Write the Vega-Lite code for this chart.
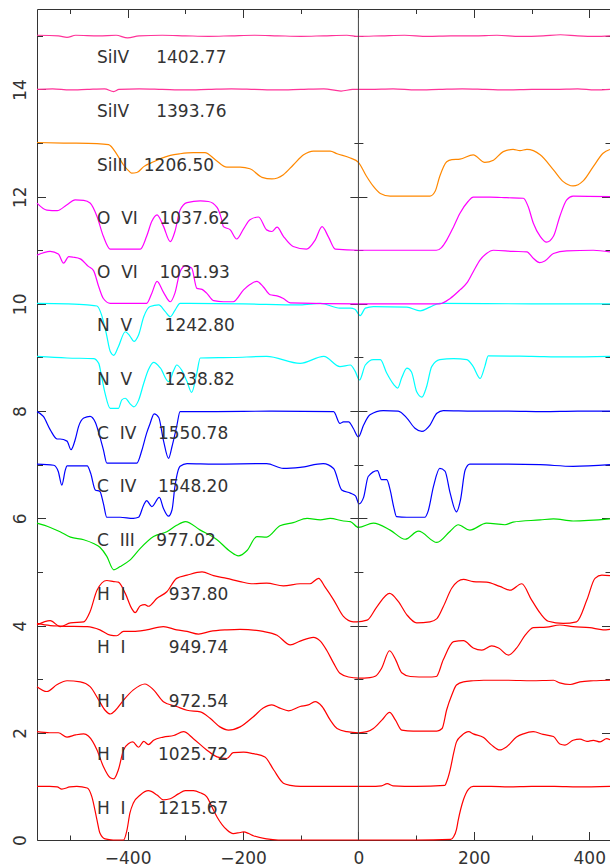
{
"$schema": "https://vega.github.io/schema/vega-lite/v6.json",
"width": 573, "height": 831,
"autosize": "none",
"padding": {"left": 37, "top": 9, "right": 0, "bottom": 27},
"background": "white",
"config": {"view": {"stroke": null}, "axis": {"grid": false, "domainColor": "#333", "tickColor": "#333", "labelColor": "#333", "labelFont": "DejaVu Sans", "labelFontSize": 17, "domainWidth": 1, "tickWidth": 1, "title": null}},
"resolve": {"axis": {"x": "independent", "y": "independent"}},
"datasets": {
"labels": [
{"offset":14,"label":"SiIV\u00a0\u00a0\u00a0\u00a0\u00a01402.77"},
{"offset":13,"label":"SiIV\u00a0\u00a0\u00a0\u00a0\u00a01393.76"},
{"offset":12,"label":"SiIII\u00a0\u00a0\u00a01206.50"},
{"offset":11,"label":"O\u00a0\u00a0VI\u00a0\u00a0\u00a0\u00a01037.62"},
{"offset":10,"label":"O\u00a0\u00a0VI\u00a0\u00a0\u00a0\u00a01031.93"},
{"offset":9,"label":"N\u00a0\u00a0V\u00a0\u00a0\u00a0\u00a0\u00a0\u00a01242.80"},
{"offset":8,"label":"N\u00a0\u00a0V\u00a0\u00a0\u00a0\u00a0\u00a0\u00a01238.82"},
{"offset":7,"label":"C\u00a0\u00a0IV\u00a0\u00a0\u00a0\u00a01550.78"},
{"offset":6,"label":"C\u00a0\u00a0IV\u00a0\u00a0\u00a0\u00a01548.20"},
{"offset":5,"label":"C\u00a0\u00a0III\u00a0\u00a0\u00a0\u00a0977.02"},
{"offset":4,"label":"H\u00a0\u00a0I\u00a0\u00a0\u00a0\u00a0\u00a0\u00a0\u00a0\u00a0937.80"},
{"offset":3,"label":"H\u00a0\u00a0I\u00a0\u00a0\u00a0\u00a0\u00a0\u00a0\u00a0\u00a0949.74"},
{"offset":2,"label":"H\u00a0\u00a0I\u00a0\u00a0\u00a0\u00a0\u00a0\u00a0\u00a0\u00a0972.54"},
{"offset":1,"label":"H\u00a0\u00a0I\u00a0\u00a0\u00a0\u00a0\u00a0\u00a01025.72"},
{"offset":0,"label":"H\u00a0\u00a0I\u00a0\u00a0\u00a0\u00a0\u00a0\u00a01215.67"}
],
"spec": [
{"s":"H1216","x":-557,"y":1.0},{"s":"H1216","x":-535,"y":1.0},{"s":"H1216","x":-522,"y":0.99},{"s":"H1216","x":-514,"y":0.95},{"s":"H1216","x":-500,"y":0.99},{"s":"H1216","x":-488,"y":1.0},{"s":"H1216","x":-470,"y":0.97},{"s":"H1216","x":-462,"y":0.81},{"s":"H1216","x":-453,"y":0.37},{"s":"H1216","x":-448,"y":0.13},{"s":"H1216","x":-439,"y":0.02},{"s":"H1216","x":-425,"y":0.0},{"s":"H1216","x":-407,"y":0.0},{"s":"H1216","x":-401,"y":0.19},{"s":"H1216","x":-396,"y":0.5},{"s":"H1216","x":-390,"y":0.69},{"s":"H1216","x":-378,"y":0.84},{"s":"H1216","x":-364,"y":0.92},{"s":"H1216","x":-349,"y":0.84},{"s":"H1216","x":-338,"y":0.75},{"s":"H1216","x":-326,"y":0.77},{"s":"H1216","x":-312,"y":0.86},{"s":"H1216","x":-300,"y":0.92},{"s":"H1216","x":-286,"y":0.92},{"s":"H1216","x":-274,"y":0.88},{"s":"H1216","x":-263,"y":0.81},{"s":"H1216","x":-254,"y":0.62},{"s":"H1216","x":-245,"y":0.43},{"s":"H1216","x":-228,"y":0.19},{"s":"H1216","x":-217,"y":0.12},{"s":"H1216","x":-205,"y":0.14},{"s":"H1216","x":-199,"y":0.15},{"s":"H1216","x":-190,"y":0.12},{"s":"H1216","x":-182,"y":0.08},{"s":"H1216","x":-159,"y":0.02},{"s":"H1216","x":-139,"y":0.0},{"s":"H1216","x":0,"y":0.0},{"s":"H1216","x":100,"y":0.0},{"s":"H1216","x":160,"y":0.01},{"s":"H1216","x":165,"y":0.06},{"s":"H1216","x":170,"y":0.2},{"s":"H1216","x":173,"y":0.37},{"s":"H1216","x":182,"y":0.75},{"s":"H1216","x":191,"y":0.95},{"s":"H1216","x":199,"y":1.0},{"s":"H1216","x":230,"y":1.0},{"s":"H1216","x":260,"y":0.99},{"s":"H1216","x":300,"y":1.0},{"s":"H1216","x":340,"y":1.0},{"s":"H1216","x":380,"y":0.99},{"s":"H1216","x":436,"y":1.0},

{"s":"H1026","x":-557,"y":2.02},{"s":"H1026","x":-535,"y":2.0},{"s":"H1026","x":-520,"y":2.0},{"s":"H1026","x":-505,"y":1.92},{"s":"H1026","x":-490,"y":1.96},{"s":"H1026","x":-476,"y":1.98},{"s":"H1026","x":-468,"y":1.94},{"s":"H1026","x":-453,"y":1.68},{"s":"H1026","x":-442,"y":1.37},{"s":"H1026","x":-430,"y":1.16},{"s":"H1026","x":-424,"y":1.14},{"s":"H1026","x":-416,"y":1.31},{"s":"H1026","x":-407,"y":1.68},{"s":"H1026","x":-398,"y":1.8},{"s":"H1026","x":-391,"y":1.83},{"s":"H1026","x":-381,"y":1.73},{"s":"H1026","x":-372,"y":1.84},{"s":"H1026","x":-364,"y":1.78},{"s":"H1026","x":-355,"y":1.86},{"s":"H1026","x":-338,"y":1.92},{"s":"H1026","x":-320,"y":1.95},{"s":"H1026","x":-303,"y":2.02},{"s":"H1026","x":-286,"y":1.89},{"s":"H1026","x":-263,"y":1.68},{"s":"H1026","x":-245,"y":1.55},{"s":"H1026","x":-228,"y":1.52},{"s":"H1026","x":-217,"y":1.63},{"s":"H1026","x":-199,"y":1.64},{"s":"H1026","x":-182,"y":1.61},{"s":"H1026","x":-162,"y":1.55},{"s":"H1026","x":-147,"y":1.31},{"s":"H1026","x":-130,"y":1.06},{"s":"H1026","x":-118,"y":1.02},{"s":"H1026","x":-100,"y":1.0},{"s":"H1026","x":0,"y":1.0},{"s":"H1026","x":20,"y":1.0},{"s":"H1026","x":40,"y":1.01},{"s":"H1026","x":50,"y":1.05},{"s":"H1026","x":60,"y":1.01},{"s":"H1026","x":100,"y":1.0},{"s":"H1026","x":150,"y":1.02},{"s":"H1026","x":153,"y":1.09},{"s":"H1026","x":159,"y":1.31},{"s":"H1026","x":165,"y":1.62},{"s":"H1026","x":170,"y":1.83},{"s":"H1026","x":179,"y":1.95},{"s":"H1026","x":191,"y":2.02},{"s":"H1026","x":199,"y":1.98},{"s":"H1026","x":217,"y":1.91},{"s":"H1026","x":231,"y":1.77},{"s":"H1026","x":245,"y":1.68},{"s":"H1026","x":257,"y":1.74},{"s":"H1026","x":274,"y":1.92},{"s":"H1026","x":286,"y":1.98},{"s":"H1026","x":303,"y":2.02},{"s":"H1026","x":320,"y":1.97},{"s":"H1026","x":338,"y":1.93},{"s":"H1026","x":349,"y":1.79},{"s":"H1026","x":358,"y":1.77},{"s":"H1026","x":372,"y":1.86},{"s":"H1026","x":384,"y":1.88},{"s":"H1026","x":396,"y":1.84},{"s":"H1026","x":407,"y":1.86},{"s":"H1026","x":419,"y":1.83},{"s":"H1026","x":430,"y":1.89},{"s":"H1026","x":436,"y":1.87},

{"s":"H973","x":-557,"y":2.86},{"s":"H973","x":-540,"y":2.77},{"s":"H973","x":-522,"y":2.9},{"s":"H973","x":-505,"y":2.97},{"s":"H973","x":-482,"y":2.95},{"s":"H973","x":-465,"y":2.86},{"s":"H973","x":-450,"y":2.61},{"s":"H973","x":-439,"y":2.42},{"s":"H973","x":-430,"y":2.35},{"s":"H973","x":-421,"y":2.42},{"s":"H973","x":-407,"y":2.61},{"s":"H973","x":-390,"y":2.8},{"s":"H973","x":-370,"y":2.91},{"s":"H973","x":-355,"y":2.8},{"s":"H973","x":-338,"y":2.58},{"s":"H973","x":-315,"y":2.49},{"s":"H973","x":-297,"y":2.42},{"s":"H973","x":-274,"y":2.39},{"s":"H973","x":-257,"y":2.27},{"s":"H973","x":-240,"y":2.11},{"s":"H973","x":-225,"y":2.05},{"s":"H973","x":-205,"y":2.11},{"s":"H973","x":-182,"y":2.3},{"s":"H973","x":-165,"y":2.46},{"s":"H973","x":-150,"y":2.52},{"s":"H973","x":-136,"y":2.46},{"s":"H973","x":-121,"y":2.41},{"s":"H973","x":-101,"y":2.49},{"s":"H973","x":-87,"y":2.52},{"s":"H973","x":-75,"y":2.58},{"s":"H973","x":-63,"y":2.49},{"s":"H973","x":-49,"y":2.24},{"s":"H973","x":-37,"y":2.08},{"s":"H973","x":-20,"y":2.02},{"s":"H973","x":0,"y":2.0},{"s":"H973","x":15,"y":2.02},{"s":"H973","x":26,"y":2.08},{"s":"H973","x":41,"y":2.24},{"s":"H973","x":54,"y":2.38},{"s":"H973","x":64,"y":2.24},{"s":"H973","x":75,"y":2.05},{"s":"H973","x":95,"y":2.03},{"s":"H973","x":136,"y":2.03},{"s":"H973","x":145,"y":2.08},{"s":"H973","x":153,"y":2.43},{"s":"H973","x":162,"y":2.71},{"s":"H973","x":170,"y":2.89},{"s":"H973","x":182,"y":2.95},{"s":"H973","x":199,"y":2.97},{"s":"H973","x":217,"y":2.98},{"s":"H973","x":260,"y":2.98},{"s":"H973","x":300,"y":2.97},{"s":"H973","x":338,"y":2.98},{"s":"H973","x":349,"y":2.93},{"s":"H973","x":367,"y":2.9},{"s":"H973","x":384,"y":2.95},{"s":"H973","x":407,"y":2.97},{"s":"H973","x":436,"y":2.98},

{"s":"H950","x":-557,"y":4.04},{"s":"H950","x":-534,"y":4.0},{"s":"H950","x":-517,"y":3.99},{"s":"H950","x":-470,"y":3.98},{"s":"H950","x":-448,"y":3.92},{"s":"H950","x":-430,"y":3.82},{"s":"H950","x":-419,"y":3.81},{"s":"H950","x":-407,"y":3.89},{"s":"H950","x":-390,"y":3.89},{"s":"H950","x":-367,"y":3.92},{"s":"H950","x":-338,"y":3.98},{"s":"H950","x":-315,"y":3.92},{"s":"H950","x":-297,"y":3.89},{"s":"H950","x":-277,"y":3.84},{"s":"H950","x":-257,"y":3.89},{"s":"H950","x":-228,"y":3.92},{"s":"H950","x":-205,"y":3.93},{"s":"H950","x":-165,"y":3.89},{"s":"H950","x":-141,"y":3.82},{"s":"H950","x":-118,"y":3.64},{"s":"H950","x":-101,"y":3.71},{"s":"H950","x":-78,"y":3.78},{"s":"H950","x":-66,"y":3.71},{"s":"H950","x":-55,"y":3.54},{"s":"H950","x":-43,"y":3.3},{"s":"H950","x":-32,"y":3.11},{"s":"H950","x":-17,"y":3.04},{"s":"H950","x":0,"y":3.02},{"s":"H950","x":20,"y":3.03},{"s":"H950","x":30,"y":3.06},{"s":"H950","x":40,"y":3.2},{"s":"H950","x":54,"y":3.53},{"s":"H950","x":65,"y":3.35},{"s":"H950","x":75,"y":3.12},{"s":"H950","x":90,"y":3.05},{"s":"H950","x":120,"y":3.04},{"s":"H950","x":135,"y":3.05},{"s":"H950","x":147,"y":3.36},{"s":"H950","x":165,"y":3.7},{"s":"H950","x":182,"y":3.72},{"s":"H950","x":199,"y":3.58},{"s":"H950","x":214,"y":3.54},{"s":"H950","x":231,"y":3.62},{"s":"H950","x":243,"y":3.58},{"s":"H950","x":260,"y":3.45},{"s":"H950","x":274,"y":3.58},{"s":"H950","x":289,"y":3.82},{"s":"H950","x":297,"y":3.92},{"s":"H950","x":303,"y":3.96},{"s":"H950","x":326,"y":3.97},{"s":"H950","x":349,"y":4.01},{"s":"H950","x":372,"y":3.98},{"s":"H950","x":401,"y":3.96},{"s":"H950","x":424,"y":3.92},{"s":"H950","x":436,"y":3.93},

{"s":"H938","x":-557,"y":4.01},{"s":"H938","x":-534,"y":4.09},{"s":"H938","x":-517,"y":3.98},{"s":"H938","x":-499,"y":4.05},{"s":"H938","x":-476,"y":4.07},{"s":"H938","x":-465,"y":4.26},{"s":"H938","x":-453,"y":4.66},{"s":"H938","x":-436,"y":4.84},{"s":"H938","x":-424,"y":4.82},{"s":"H938","x":-416,"y":4.81},{"s":"H938","x":-404,"y":4.6},{"s":"H938","x":-393,"y":4.32},{"s":"H938","x":-387,"y":4.24},{"s":"H938","x":-378,"y":4.37},{"s":"H938","x":-370,"y":4.39},{"s":"H938","x":-364,"y":4.36},{"s":"H938","x":-349,"y":4.51},{"s":"H938","x":-332,"y":4.63},{"s":"H938","x":-315,"y":4.88},{"s":"H938","x":-297,"y":4.94},{"s":"H938","x":-271,"y":5.0},{"s":"H938","x":-251,"y":4.93},{"s":"H938","x":-228,"y":4.88},{"s":"H938","x":-205,"y":4.82},{"s":"H938","x":-182,"y":4.78},{"s":"H938","x":-159,"y":4.79},{"s":"H938","x":-130,"y":4.74},{"s":"H938","x":-101,"y":4.78},{"s":"H938","x":-84,"y":4.78},{"s":"H938","x":-69,"y":4.88},{"s":"H938","x":-58,"y":4.72},{"s":"H938","x":-43,"y":4.48},{"s":"H938","x":-26,"y":4.17},{"s":"H938","x":-9,"y":4.07},{"s":"H938","x":-3,"y":4.07},{"s":"H938","x":15,"y":4.1},{"s":"H938","x":32,"y":4.35},{"s":"H938","x":54,"y":4.6},{"s":"H938","x":69,"y":4.45},{"s":"H938","x":84,"y":4.2},{"s":"H938","x":101,"y":4.05},{"s":"H938","x":124,"y":4.07},{"s":"H938","x":136,"y":4.13},{"s":"H938","x":147,"y":4.35},{"s":"H938","x":162,"y":4.7},{"s":"H938","x":182,"y":4.86},{"s":"H938","x":199,"y":4.82},{"s":"H938","x":222,"y":4.81},{"s":"H938","x":245,"y":4.73},{"s":"H938","x":263,"y":4.66},{"s":"H938","x":283,"y":4.78},{"s":"H938","x":300,"y":4.48},{"s":"H938","x":315,"y":4.23},{"s":"H938","x":329,"y":4.08},{"s":"H938","x":355,"y":4.04},{"s":"H938","x":378,"y":4.07},{"s":"H938","x":396,"y":4.48},{"s":"H938","x":410,"y":4.88},{"s":"H938","x":422,"y":4.94},{"s":"H938","x":436,"y":4.93},

{"s":"C977","x":-557,"y":5.91},{"s":"C977","x":-534,"y":5.83},{"s":"C977","x":-517,"y":5.75},{"s":"C977","x":-499,"y":5.65},{"s":"C977","x":-476,"y":5.6},{"s":"C977","x":-459,"y":5.53},{"s":"C977","x":-448,"y":5.46},{"s":"C977","x":-436,"y":5.29},{"s":"C977","x":-424,"y":5.04},{"s":"C977","x":-413,"y":5.1},{"s":"C977","x":-396,"y":5.22},{"s":"C977","x":-378,"y":5.44},{"s":"C977","x":-355,"y":5.66},{"s":"C977","x":-332,"y":5.75},{"s":"C977","x":-315,"y":5.87},{"s":"C977","x":-300,"y":5.94},{"s":"C977","x":-274,"y":5.78},{"s":"C977","x":-245,"y":5.6},{"s":"C977","x":-222,"y":5.38},{"s":"C977","x":-208,"y":5.3},{"s":"C977","x":-193,"y":5.4},{"s":"C977","x":-176,"y":5.66},{"s":"C977","x":-159,"y":5.65},{"s":"C977","x":-136,"y":5.86},{"s":"C977","x":-113,"y":5.92},{"s":"C977","x":-89,"y":6.0},{"s":"C977","x":-66,"y":5.97},{"s":"C977","x":-49,"y":6.0},{"s":"C977","x":-26,"y":5.95},{"s":"C977","x":-14,"y":5.94},{"s":"C977","x":0,"y":5.83},{"s":"C977","x":26,"y":5.91},{"s":"C977","x":55,"y":5.78},{"s":"C977","x":81,"y":5.61},{"s":"C977","x":104,"y":5.76},{"s":"C977","x":136,"y":5.55},{"s":"C977","x":159,"y":5.76},{"s":"C977","x":173,"y":5.88},{"s":"C977","x":193,"y":5.78},{"s":"C977","x":222,"y":5.91},{"s":"C977","x":254,"y":5.88},{"s":"C977","x":268,"y":5.93},{"s":"C977","x":315,"y":5.97},{"s":"C977","x":338,"y":5.99},{"s":"C977","x":372,"y":5.95},{"s":"C977","x":436,"y":5.99},

{"s":"C1548","x":-557,"y":7.01},{"s":"C1548","x":-528,"y":6.99},{"s":"C1548","x":-520,"y":6.87},{"s":"C1548","x":-514,"y":6.62},{"s":"C1548","x":-508,"y":6.9},{"s":"C1548","x":-505,"y":6.98},{"s":"C1548","x":-470,"y":6.98},{"s":"C1548","x":-464,"y":6.84},{"s":"C1548","x":-456,"y":6.53},{"s":"C1548","x":-448,"y":6.5},{"s":"C1548","x":-442,"y":6.28},{"s":"C1548","x":-436,"y":6.02},{"s":"C1548","x":-413,"y":6.02},{"s":"C1548","x":-390,"y":6.0},{"s":"C1548","x":-381,"y":6.02},{"s":"C1548","x":-372,"y":6.25},{"s":"C1548","x":-367,"y":6.33},{"s":"C1548","x":-358,"y":6.22},{"s":"C1548","x":-345,"y":6.39},{"s":"C1548","x":-338,"y":6.19},{"s":"C1548","x":-329,"y":6.04},{"s":"C1548","x":-323,"y":6.16},{"s":"C1548","x":-318,"y":6.59},{"s":"C1548","x":-309,"y":6.97},{"s":"C1548","x":-297,"y":7.02},{"s":"C1548","x":-250,"y":7.01},{"s":"C1548","x":-159,"y":7.02},{"s":"C1548","x":-130,"y":6.93},{"s":"C1548","x":-101,"y":6.95},{"s":"C1548","x":-61,"y":7.02},{"s":"C1548","x":-43,"y":6.93},{"s":"C1548","x":-29,"y":6.53},{"s":"C1548","x":-14,"y":6.47},{"s":"C1548","x":-5,"y":6.42},{"s":"C1548","x":1,"y":6.27},{"s":"C1548","x":9,"y":6.39},{"s":"C1548","x":17,"y":6.78},{"s":"C1548","x":33,"y":6.89},{"s":"C1548","x":40,"y":6.72},{"s":"C1548","x":49,"y":6.72},{"s":"C1548","x":55,"y":6.53},{"s":"C1548","x":61,"y":6.22},{"s":"C1548","x":66,"y":6.03},{"s":"C1548","x":84,"y":6.02},{"s":"C1548","x":115,"y":6.02},{"s":"C1548","x":121,"y":6.14},{"s":"C1548","x":130,"y":6.59},{"s":"C1548","x":141,"y":6.93},{"s":"C1548","x":150,"y":6.88},{"s":"C1548","x":159,"y":6.47},{"s":"C1548","x":170,"y":6.12},{"s":"C1548","x":177,"y":6.35},{"s":"C1548","x":185,"y":6.9},{"s":"C1548","x":193,"y":7.01},{"s":"C1548","x":250,"y":7.01},{"s":"C1548","x":315,"y":7.0},{"s":"C1548","x":372,"y":6.97},{"s":"C1548","x":436,"y":7.0},

{"s":"C1551","x":-557,"y":7.99},{"s":"C1551","x":-546,"y":7.9},{"s":"C1551","x":-534,"y":7.65},{"s":"C1551","x":-522,"y":7.48},{"s":"C1551","x":-517,"y":7.48},{"s":"C1551","x":-505,"y":7.44},{"s":"C1551","x":-498,"y":7.28},{"s":"C1551","x":-491,"y":7.46},{"s":"C1551","x":-485,"y":7.71},{"s":"C1551","x":-476,"y":7.87},{"s":"C1551","x":-465,"y":7.9},{"s":"C1551","x":-456,"y":7.79},{"s":"C1551","x":-448,"y":7.52},{"s":"C1551","x":-442,"y":7.28},{"s":"C1551","x":-436,"y":7.03},{"s":"C1551","x":-413,"y":7.03},{"s":"C1551","x":-384,"y":7.03},{"s":"C1551","x":-375,"y":7.28},{"s":"C1551","x":-367,"y":7.59},{"s":"C1551","x":-361,"y":7.77},{"s":"C1551","x":-354,"y":7.95},{"s":"C1551","x":-346,"y":7.88},{"s":"C1551","x":-338,"y":7.46},{"s":"C1551","x":-329,"y":7.12},{"s":"C1551","x":-323,"y":7.34},{"s":"C1551","x":-315,"y":7.71},{"s":"C1551","x":-309,"y":7.99},{"s":"C1551","x":-250,"y":7.99},{"s":"C1551","x":-150,"y":8.0},{"s":"C1551","x":-43,"y":7.99},{"s":"C1551","x":-32,"y":7.77},{"s":"C1551","x":-26,"y":7.8},{"s":"C1551","x":-17,"y":7.8},{"s":"C1551","x":-9,"y":7.68},{"s":"C1551","x":0,"y":7.52},{"s":"C1551","x":9,"y":7.74},{"s":"C1551","x":20,"y":7.93},{"s":"C1551","x":43,"y":8.01},{"s":"C1551","x":69,"y":8.0},{"s":"C1551","x":84,"y":7.87},{"s":"C1551","x":98,"y":7.68},{"s":"C1551","x":110,"y":7.62},{"s":"C1551","x":124,"y":7.74},{"s":"C1551","x":136,"y":7.96},{"s":"C1551","x":147,"y":8.01},{"s":"C1551","x":200,"y":8.0},{"s":"C1551","x":260,"y":8.0},{"s":"C1551","x":320,"y":7.99},{"s":"C1551","x":380,"y":8.0},{"s":"C1551","x":436,"y":8.0},

{"s":"N1239","x":-557,"y":9.02},{"s":"N1239","x":-505,"y":8.99},{"s":"N1239","x":-459,"y":8.98},{"s":"N1239","x":-450,"y":8.89},{"s":"N1239","x":-445,"y":8.64},{"s":"N1239","x":-439,"y":8.33},{"s":"N1239","x":-430,"y":8.05},{"s":"N1239","x":-416,"y":8.05},{"s":"N1239","x":-410,"y":8.21},{"s":"N1239","x":-404,"y":8.24},{"s":"N1239","x":-396,"y":8.14},{"s":"N1239","x":-389,"y":8.08},{"s":"N1239","x":-381,"y":8.2},{"s":"N1239","x":-372,"y":8.52},{"s":"N1239","x":-364,"y":8.77},{"s":"N1239","x":-355,"y":8.91},{"s":"N1239","x":-343,"y":8.8},{"s":"N1239","x":-329,"y":8.55},{"s":"N1239","x":-320,"y":8.76},{"s":"N1239","x":-315,"y":8.86},{"s":"N1239","x":-306,"y":8.76},{"s":"N1239","x":-297,"y":8.55},{"s":"N1239","x":-289,"y":8.35},{"s":"N1239","x":-280,"y":8.71},{"s":"N1239","x":-274,"y":8.99},{"s":"N1239","x":-217,"y":9.0},{"s":"N1239","x":-159,"y":9.02},{"s":"N1239","x":-101,"y":8.89},{"s":"N1239","x":-60,"y":9.02},{"s":"N1239","x":-32,"y":8.83},{"s":"N1239","x":-14,"y":8.86},{"s":"N1239","x":-6,"y":8.75},{"s":"N1239","x":2,"y":8.58},{"s":"N1239","x":12,"y":8.86},{"s":"N1239","x":26,"y":8.96},{"s":"N1239","x":38,"y":8.96},{"s":"N1239","x":49,"y":8.71},{"s":"N1239","x":61,"y":8.5},{"s":"N1239","x":68,"y":8.43},{"s":"N1239","x":75,"y":8.62},{"s":"N1239","x":84,"y":8.8},{"s":"N1239","x":92,"y":8.73},{"s":"N1239","x":101,"y":8.36},{"s":"N1239","x":110,"y":8.26},{"s":"N1239","x":118,"y":8.45},{"s":"N1239","x":127,"y":8.83},{"s":"N1239","x":141,"y":8.96},{"s":"N1239","x":165,"y":8.98},{"s":"N1239","x":188,"y":8.96},{"s":"N1239","x":199,"y":8.83},{"s":"N1239","x":211,"y":8.61},{"s":"N1239","x":219,"y":8.83},{"s":"N1239","x":225,"y":9.03},{"s":"N1239","x":300,"y":9.02},{"s":"N1239","x":360,"y":9.01},{"s":"N1239","x":436,"y":9.02},

{"s":"N1243","x":-557,"y":10.01},{"s":"N1243","x":-505,"y":10.0},{"s":"N1243","x":-470,"y":9.98},{"s":"N1243","x":-453,"y":9.96},{"s":"N1243","x":-445,"y":9.79},{"s":"N1243","x":-437,"y":9.45},{"s":"N1243","x":-430,"y":9.11},{"s":"N1243","x":-424,"y":9.04},{"s":"N1243","x":-416,"y":9.2},{"s":"N1243","x":-404,"y":9.48},{"s":"N1243","x":-396,"y":9.4},{"s":"N1243","x":-389,"y":9.3},{"s":"N1243","x":-381,"y":9.42},{"s":"N1243","x":-372,"y":9.76},{"s":"N1243","x":-361,"y":9.95},{"s":"N1243","x":-346,"y":9.98},{"s":"N1243","x":-335,"y":9.86},{"s":"N1243","x":-326,"y":9.76},{"s":"N1243","x":-318,"y":9.88},{"s":"N1243","x":-309,"y":10.01},{"s":"N1243","x":-200,"y":10.0},{"s":"N1243","x":-101,"y":9.98},{"s":"N1243","x":-66,"y":10.01},{"s":"N1243","x":-32,"y":9.92},{"s":"N1243","x":-14,"y":9.92},{"s":"N1243","x":-6,"y":9.9},{"s":"N1243","x":3,"y":9.78},{"s":"N1243","x":12,"y":9.92},{"s":"N1243","x":26,"y":9.95},{"s":"N1243","x":84,"y":9.94},{"s":"N1243","x":107,"y":9.87},{"s":"N1243","x":124,"y":9.94},{"s":"N1243","x":141,"y":10.01},{"s":"N1243","x":300,"y":10.0},{"s":"N1243","x":436,"y":10.0},

{"s":"O1032","x":-557,"y":10.91},{"s":"O1032","x":-534,"y":10.98},{"s":"O1032","x":-520,"y":10.93},{"s":"O1032","x":-511,"y":10.76},{"s":"O1032","x":-502,"y":10.88},{"s":"O1032","x":-494,"y":10.87},{"s":"O1032","x":-482,"y":10.84},{"s":"O1032","x":-468,"y":10.7},{"s":"O1032","x":-459,"y":10.62},{"s":"O1032","x":-450,"y":10.32},{"s":"O1032","x":-442,"y":10.1},{"s":"O1032","x":-430,"y":10.01},{"s":"O1032","x":-367,"y":10.01},{"s":"O1032","x":-358,"y":10.2},{"s":"O1032","x":-349,"y":10.42},{"s":"O1032","x":-338,"y":10.22},{"s":"O1032","x":-326,"y":10.04},{"s":"O1032","x":-318,"y":10.2},{"s":"O1032","x":-309,"y":10.6},{"s":"O1032","x":-300,"y":10.71},{"s":"O1032","x":-289,"y":10.67},{"s":"O1032","x":-280,"y":10.29},{"s":"O1032","x":-271,"y":10.27},{"s":"O1032","x":-263,"y":10.2},{"s":"O1032","x":-251,"y":10.06},{"s":"O1032","x":-234,"y":10.04},{"s":"O1032","x":-217,"y":10.04},{"s":"O1032","x":-199,"y":10.26},{"s":"O1032","x":-188,"y":10.36},{"s":"O1032","x":-176,"y":10.42},{"s":"O1032","x":-165,"y":10.32},{"s":"O1032","x":-153,"y":10.17},{"s":"O1032","x":-141,"y":10.15},{"s":"O1032","x":-130,"y":10.1},{"s":"O1032","x":-118,"y":10.02},{"s":"O1032","x":0,"y":10.0},{"s":"O1032","x":141,"y":10.0},{"s":"O1032","x":159,"y":10.1},{"s":"O1032","x":176,"y":10.26},{"s":"O1032","x":188,"y":10.39},{"s":"O1032","x":199,"y":10.6},{"s":"O1032","x":211,"y":10.82},{"s":"O1032","x":222,"y":10.94},{"s":"O1032","x":234,"y":11.0},{"s":"O1032","x":268,"y":10.98},{"s":"O1032","x":292,"y":10.97},{"s":"O1032","x":303,"y":10.85},{"s":"O1032","x":314,"y":10.77},{"s":"O1032","x":323,"y":10.8},{"s":"O1032","x":338,"y":10.94},{"s":"O1032","x":361,"y":10.99},{"s":"O1032","x":407,"y":11.0},{"s":"O1032","x":436,"y":10.97},

{"s":"O1038","x":-557,"y":11.88},{"s":"O1038","x":-540,"y":11.75},{"s":"O1038","x":-522,"y":11.74},{"s":"O1038","x":-505,"y":11.85},{"s":"O1038","x":-491,"y":11.94},{"s":"O1038","x":-476,"y":11.93},{"s":"O1038","x":-465,"y":11.88},{"s":"O1038","x":-453,"y":11.63},{"s":"O1038","x":-442,"y":11.26},{"s":"O1038","x":-430,"y":11.02},{"s":"O1038","x":-378,"y":11.02},{"s":"O1038","x":-367,"y":11.26},{"s":"O1038","x":-358,"y":11.54},{"s":"O1038","x":-349,"y":11.66},{"s":"O1038","x":-338,"y":11.45},{"s":"O1038","x":-326,"y":11.16},{"s":"O1038","x":-318,"y":11.35},{"s":"O1038","x":-309,"y":11.75},{"s":"O1038","x":-297,"y":11.89},{"s":"O1038","x":-274,"y":11.92},{"s":"O1038","x":-260,"y":11.91},{"s":"O1038","x":-245,"y":11.8},{"s":"O1038","x":-237,"y":11.57},{"s":"O1038","x":-234,"y":11.44},{"s":"O1038","x":-222,"y":11.38},{"s":"O1038","x":-211,"y":11.21},{"s":"O1038","x":-199,"y":11.4},{"s":"O1038","x":-188,"y":11.57},{"s":"O1038","x":-173,"y":11.62},{"s":"O1038","x":-159,"y":11.38},{"s":"O1038","x":-150,"y":11.35},{"s":"O1038","x":-141,"y":11.43},{"s":"O1038","x":-130,"y":11.26},{"s":"O1038","x":-113,"y":11.07},{"s":"O1038","x":-90,"y":11.02},{"s":"O1038","x":-75,"y":11.19},{"s":"O1038","x":-63,"y":11.44},{"s":"O1038","x":-52,"y":11.25},{"s":"O1038","x":-40,"y":11.02},{"s":"O1038","x":0,"y":11.0},{"s":"O1038","x":135,"y":11.0},{"s":"O1038","x":144,"y":11.05},{"s":"O1038","x":153,"y":11.19},{"s":"O1038","x":165,"y":11.44},{"s":"O1038","x":176,"y":11.69},{"s":"O1038","x":190,"y":11.91},{"s":"O1038","x":199,"y":11.99},{"s":"O1038","x":228,"y":11.99},{"s":"O1038","x":257,"y":11.98},{"s":"O1038","x":286,"y":11.97},{"s":"O1038","x":294,"y":11.82},{"s":"O1038","x":303,"y":11.51},{"s":"O1038","x":315,"y":11.26},{"s":"O1038","x":326,"y":11.15},{"s":"O1038","x":338,"y":11.26},{"s":"O1038","x":349,"y":11.63},{"s":"O1038","x":361,"y":11.94},{"s":"O1038","x":372,"y":12.01},{"s":"O1038","x":436,"y":12.0},

{"s":"Si1206","x":-557,"y":13.01},{"s":"Si1206","x":-511,"y":13.0},{"s":"Si1206","x":-453,"y":12.99},{"s":"Si1206","x":-433,"y":12.97},{"s":"Si1206","x":-418,"y":12.78},{"s":"Si1206","x":-407,"y":12.59},{"s":"Si1206","x":-398,"y":12.48},{"s":"Si1206","x":-393,"y":12.44},{"s":"Si1206","x":-384,"y":12.45},{"s":"Si1206","x":-372,"y":12.56},{"s":"Si1206","x":-355,"y":12.65},{"s":"Si1206","x":-343,"y":12.71},{"s":"Si1206","x":-326,"y":12.77},{"s":"Si1206","x":-309,"y":12.8},{"s":"Si1206","x":-286,"y":12.82},{"s":"Si1206","x":-266,"y":12.82},{"s":"Si1206","x":-248,"y":12.69},{"s":"Si1206","x":-228,"y":12.55},{"s":"Si1206","x":-205,"y":12.55},{"s":"Si1206","x":-188,"y":12.52},{"s":"Si1206","x":-167,"y":12.36},{"s":"Si1206","x":-150,"y":12.33},{"s":"Si1206","x":-130,"y":12.41},{"s":"Si1206","x":-113,"y":12.59},{"s":"Si1206","x":-95,"y":12.78},{"s":"Si1206","x":-78,"y":12.85},{"s":"Si1206","x":-49,"y":12.85},{"s":"Si1206","x":-37,"y":12.8},{"s":"Si1206","x":-14,"y":12.72},{"s":"Si1206","x":0,"y":12.64},{"s":"Si1206","x":14,"y":12.38},{"s":"Si1206","x":26,"y":12.19},{"s":"Si1206","x":38,"y":12.06},{"s":"Si1206","x":55,"y":12.01},{"s":"Si1206","x":124,"y":12.01},{"s":"Si1206","x":133,"y":12.1},{"s":"Si1206","x":141,"y":12.38},{"s":"Si1206","x":153,"y":12.65},{"s":"Si1206","x":162,"y":12.69},{"s":"Si1206","x":176,"y":12.7},{"s":"Si1206","x":199,"y":12.78},{"s":"Si1206","x":219,"y":12.64},{"s":"Si1206","x":234,"y":12.68},{"s":"Si1206","x":251,"y":12.84},{"s":"Si1206","x":268,"y":12.88},{"s":"Si1206","x":280,"y":12.86},{"s":"Si1206","x":292,"y":12.88},{"s":"Si1206","x":315,"y":12.78},{"s":"Si1206","x":338,"y":12.5},{"s":"Si1206","x":355,"y":12.28},{"s":"Si1206","x":372,"y":12.2},{"s":"Si1206","x":390,"y":12.3},{"s":"Si1206","x":407,"y":12.56},{"s":"Si1206","x":424,"y":12.81},{"s":"Si1206","x":436,"y":12.88},

{"s":"Si1394","x":-557,"y":14.0},{"s":"Si1394","x":-530,"y":14.01},{"s":"Si1394","x":-500,"y":13.99},{"s":"Si1394","x":-470,"y":14.0},{"s":"Si1394","x":-440,"y":14.01},{"s":"Si1394","x":-424,"y":13.96},{"s":"Si1394","x":-415,"y":14.0},{"s":"Si1394","x":-380,"y":14.01},{"s":"Si1394","x":-340,"y":14.0},{"s":"Si1394","x":-300,"y":13.99},{"s":"Si1394","x":-260,"y":14.0},{"s":"Si1394","x":-220,"y":14.01},{"s":"Si1394","x":-180,"y":14.0},{"s":"Si1394","x":-140,"y":13.99},{"s":"Si1394","x":-100,"y":14.0},{"s":"Si1394","x":-60,"y":14.01},{"s":"Si1394","x":-30,"y":13.97},{"s":"Si1394","x":-10,"y":14.0},{"s":"Si1394","x":20,"y":14.0},{"s":"Si1394","x":60,"y":14.01},{"s":"Si1394","x":100,"y":13.99},{"s":"Si1394","x":140,"y":14.0},{"s":"Si1394","x":180,"y":14.01},{"s":"Si1394","x":220,"y":14.0},{"s":"Si1394","x":260,"y":13.99},{"s":"Si1394","x":300,"y":14.0},{"s":"Si1394","x":340,"y":14.0},{"s":"Si1394","x":380,"y":14.01},{"s":"Si1394","x":410,"y":13.99},{"s":"Si1394","x":436,"y":14.0},

{"s":"Si1403","x":-557,"y":15.01},{"s":"Si1403","x":-520,"y":15.0},{"s":"Si1403","x":-505,"y":14.97},{"s":"Si1403","x":-490,"y":15.01},{"s":"Si1403","x":-450,"y":15.0},{"s":"Si1403","x":-420,"y":15.01},{"s":"Si1403","x":-400,"y":14.96},{"s":"Si1403","x":-380,"y":15.0},{"s":"Si1403","x":-340,"y":15.01},{"s":"Si1403","x":-300,"y":15.0},{"s":"Si1403","x":-260,"y":14.99},{"s":"Si1403","x":-220,"y":15.0},{"s":"Si1403","x":-180,"y":15.01},{"s":"Si1403","x":-140,"y":15.0},{"s":"Si1403","x":-100,"y":14.99},{"s":"Si1403","x":-60,"y":15.0},{"s":"Si1403","x":-20,"y":15.01},{"s":"Si1403","x":0,"y":14.99},{"s":"Si1403","x":40,"y":15.0},{"s":"Si1403","x":80,"y":15.01},{"s":"Si1403","x":120,"y":14.99},{"s":"Si1403","x":160,"y":15.0},{"s":"Si1403","x":200,"y":15.0},{"s":"Si1403","x":240,"y":15.01},{"s":"Si1403","x":280,"y":14.99},{"s":"Si1403","x":320,"y":15.0},{"s":"Si1403","x":350,"y":15.02},{"s":"Si1403","x":380,"y":15.0},{"s":"Si1403","x":410,"y":14.99},{"s":"Si1403","x":436,"y":15.0}
],
"one": [{"at": "zero"}]
},
"layer": [
{
"data": {"name": "spec"},
"mark": {"type": "line", "strokeWidth": 1.2, "interpolate": "monotone"},
"encoding": {
"x": {"field": "x", "type": "quantitative", "scale": {"domain": [-557, 436], "nice": false, "zero": false}, "axis": {"orient": "bottom", "values": [-400, -200, 0, 200, 400], "tickSize": -8.5, "labelPadding": 19, "labelFlush": false, "labelOverlap": false}},
"y": {"field": "y", "type": "quantitative", "scale": {"domain": [0, 15.5], "nice": false, "zero": false}, "axis": {"orient": "left", "values": [0, 2, 4, 6, 8, 10, 12, 14], "tickSize": -8.5, "labelAngle": 270, "labelAlign": "center", "labelBaseline": "alphabetic", "labelPadding": 20, "labelFlush": false, "labelOverlap": false}},
"color": {"field": "s", "type": "nominal", "legend": null, "scale": {"domain": ["H1216","H1026","H973","H950","H938","C977","C1548","C1551","N1239","N1243","O1032","O1038","Si1206","Si1394","Si1403"], "range": ["#ff0000","#ff0000","#ff0000","#ff0000","#ff0000","#00e000","#0000ff","#0000ff","#00ffff","#00ffff","#ff00ff","#ff00ff","#ff8800","#ff3399","#ff3399"]}}
}
},
{
"data": {"name": "labels"},
"mark": {"type": "text", "align": "left", "baseline": "middle", "dy": -31, "font": "DejaVu Sans", "fontSize": 17, "color": "#333"},
"encoding": {
"x": {"datum": -453, "type": "quantitative", "axis": null},
"y": {"field": "offset", "type": "quantitative", "axis": null},
"text": {"field": "label"}
}
},
{
"data": {"name": "labels"},
"mark": {"type": "point", "opacity": 0},
"encoding": {
"x": {"field": "offset", "type": "quantitative", "axis": {"orient": "bottom", "values": [-500, -300, -100, 100, 300], "tickSize": -5, "labels": false, "domain": false}},
"y": {"field": "offset", "type": "quantitative", "axis": {"orient": "left", "values": [1, 3, 5, 7, 9, 11, 13, 15], "tickSize": -5.5, "labels": false, "domain": false}}
}
},
{
"data": {"name": "labels"},
"mark": {"type": "point", "opacity": 0},
"encoding": {
"x": {"field": "offset", "type": "quantitative", "axis": {"orient": "top", "values": [-400, -200, 0, 200, 400], "tickSize": -8.5, "labels": false, "domain": true}},
"y": {"field": "offset", "type": "quantitative", "axis": {"orient": "right", "values": [0, 2, 4, 6, 8, 10, 12, 14], "tickSize": -8.5, "labels": false, "domain": false}}
}
},
{
"data": {"name": "labels"},
"mark": {"type": "point", "opacity": 0},
"encoding": {
"x": {"field": "offset", "type": "quantitative", "axis": {"orient": "top", "values": [-500, -300, -100, 100, 300], "tickSize": -4.5, "labels": false, "domain": false}},
"y": {"field": "offset", "type": "quantitative", "axis": {"orient": "right", "values": [1, 3, 5, 7, 9, 11, 13, 15], "tickSize": -5, "labels": false, "domain": false}}
}
},
{
"data": {"name": "labels"},
"mark": {"type": "point", "opacity": 0},
"encoding": {
"x": {"field": "offset", "type": "quantitative", "axis": null},
"y": {"field": "offset", "type": "quantitative", "axis": {"orient": "left", "offset": -321.4, "values": [2, 4, 6, 8, 10, 12, 14], "tickSize": 8.5, "labels": false, "domain": false}}
}
},
{
"data": {"name": "labels"},
"mark": {"type": "point", "opacity": 0},
"encoding": {
"x": {"field": "offset", "type": "quantitative", "axis": null},
"y": {"field": "offset", "type": "quantitative", "axis": {"orient": "left", "offset": -321.4, "values": [2, 4, 6, 8, 10, 12, 14], "tickSize": -8.5, "labels": false, "domain": false}}
}
},
{
"data": {"name": "labels"},
"mark": {"type": "point", "opacity": 0},
"encoding": {
"x": {"field": "offset", "type": "quantitative", "axis": null},
"y": {"field": "offset", "type": "quantitative", "axis": {"orient": "left", "offset": -321.4, "values": [1, 3, 5, 7, 9, 11, 13, 15], "tickSize": 4.5, "labels": false, "domain": false}}
}
},
{
"data": {"name": "labels"},
"mark": {"type": "point", "opacity": 0},
"encoding": {
"x": {"field": "offset", "type": "quantitative", "axis": null},
"y": {"field": "offset", "type": "quantitative", "axis": {"orient": "left", "offset": -321.4, "values": [1, 3, 5, 7, 9, 11, 13, 15], "tickSize": -4.5, "labels": false, "domain": false}}
}
},
{
"data": {"name": "one"},
"mark": {"type": "rule", "color": "#444", "strokeWidth": 1},
"encoding": {
"x": {"datum": 0, "type": "quantitative", "axis": null}
}
}
]
}
